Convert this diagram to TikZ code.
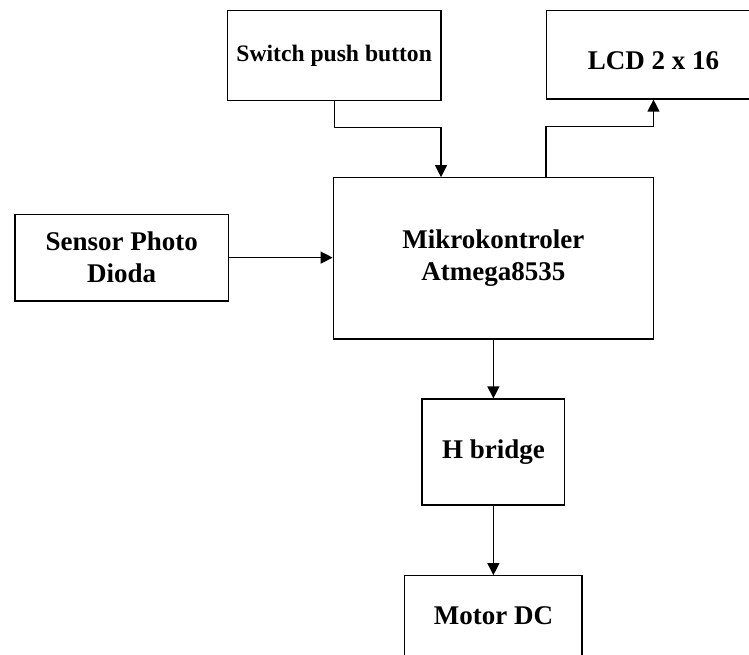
\documentclass[tikz,border=0pt]{standalone}
\usepackage{fontspec}
\setmainfont{Liberation Serif}
\usetikzlibrary{arrows.meta}
\begin{document}
\begin{tikzpicture}[x=1pt,y=-1pt,
  blk/.style={draw, line width=1.2pt, rectangle, inner sep=0pt, align=center,
    font=\fontsize{27}{31.7}\selectfont\bfseries},
  conn/.style={line width=1.2pt, -{Triangle[length=12pt,width=12pt]}}]
\useasboundingbox (0,0) rectangle (749,655);
\clip (0,0) rectangle (749,655);
\node[blk, minimum width=213.6pt, minimum height=89.4pt,
  font=\fontsize{23.6}{28}\selectfont\bfseries] (sw) at (334.2,55.5) {Switch push button};
\node[blk, minimum width=213.8pt, minimum height=88.2pt] (lcd) at (653.5,54.9)
  {\raisebox{-5.5pt}[\height][\depth]{LCD 2 x 16}};
\node[blk, minimum width=213.3pt, minimum height=86.7pt] (sn) at (121.65,257.6) {Sensor Photo\\Dioda};
\node[blk, minimum width=320.3pt, minimum height=161.2pt] (mc) at (493.4,258.4) {Mikrokontroler\\Atmega8535};
\node[blk, minimum width=142.7pt, minimum height=106pt] (hb) at (493.4,452) {H bridge};
\node[blk, minimum width=177.3pt, minimum height=80.6pt] (md) at (493.4,616) {Motor DC};
\draw[conn] (sw.south) -- ++(0,27) -| ([xshift=-52.4pt]mc.north);
\draw[conn] (mc.north -| lcd.west) -- ++(0,-50.6) -| (lcd.south);
\draw[conn] (sn.east) -- (sn.east -| mc.west);
\draw[conn] (mc.south) -- (hb.north);
\draw[conn] (hb.south) -- (md.north);
\end{tikzpicture}
\end{document}
